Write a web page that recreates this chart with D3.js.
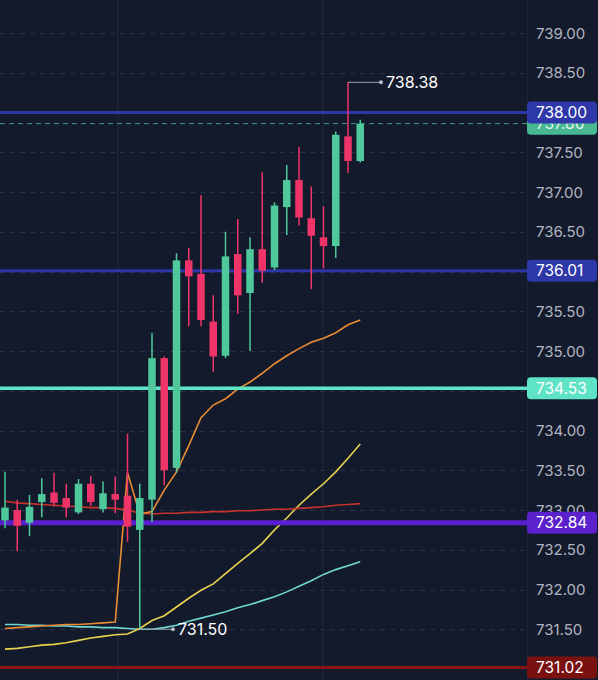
<!DOCTYPE html>
<html><head><meta charset="utf-8">
<script src="https://cdn.jsdelivr.net/npm/d3@7"></script>
<style>
html,body{margin:0;padding:0;background:#131a2c;}
svg{display:block;}
</style></head>
<body>
<script>
// ---- data ----
const candleIndex = d3.range(30);
const open  = [732.87,733.00,732.84,733.10,733.22,733.15,732.97,733.33,733.01,733.20,733.18,732.75,733.13,734.91,733.53,736.14,735.97,735.37,734.94,736.22,735.73,736.28,736.05,736.81,737.15,736.67,736.43,736.32,737.70,737.39];
const high  = [733.48,733.13,733.19,733.40,733.47,733.33,733.39,733.43,733.36,733.42,733.96,733.33,735.23,734.93,736.23,736.30,736.96,735.70,736.50,736.66,736.43,737.25,736.87,737.34,737.57,737.07,736.82,737.76,738.38,737.91];
const low   = [732.77,732.48,732.67,732.91,733.04,732.91,732.95,733.05,732.97,732.96,732.60,731.50,732.85,733.31,733.47,735.31,735.31,734.74,734.91,735.47,735.00,735.86,736.02,736.46,736.58,735.78,736.04,736.17,737.24,737.37];
const close = [733.03,732.80,733.04,733.20,733.09,733.03,733.33,733.10,733.21,733.13,732.79,733.15,734.91,733.50,736.14,735.94,735.39,734.93,736.19,735.70,736.28,736.01,736.83,737.15,736.68,736.45,736.32,737.72,737.39,737.86];

const maOrange = [731.51,731.52,731.53,731.54,731.55,731.56,731.56,731.57,731.58,731.59,733.47,732.95,732.98,733.25,733.48,733.81,734.16,734.32,734.40,734.52,734.61,734.72,734.84,734.94,735.03,735.11,735.16,735.23,735.33,735.39];
const maRed    = [733.11,733.09,733.08,733.07,733.06,733.05,733.04,733.03,733.03,733.02,733.00,732.96,732.95,732.96,732.96,732.97,732.97,732.98,732.98,732.99,732.99,733.00,733.01,733.01,733.02,733.03,733.04,733.06,733.07,733.08];
const maYellow = [731.25,731.26,731.28,731.30,731.31,731.33,731.36,731.39,731.41,731.43,731.44,731.51,731.61,731.67,731.78,731.89,731.99,732.07,732.20,732.33,732.45,732.58,732.75,732.90,733.06,733.20,733.33,733.48,733.65,733.83];
const maCyan   = [731.56,731.56,731.55,731.55,731.54,731.54,731.53,731.53,731.52,731.52,731.51,731.50,731.50,731.52,731.55,731.60,731.64,731.68,731.72,731.77,731.81,731.86,731.91,731.97,732.04,732.11,732.19,732.25,732.30,732.35];

const tickValues = [739.0,738.5,738.0,737.5,737.0,736.5,736.0,735.5,735.0,734.5,734.0,733.5,733.0,732.5,732.0,731.5];

const levelValues = [738.00, 736.01, 734.53, 732.84, 731.02];
const levelNames  = ["blue","blue","aqua","purple","darkred"];
const lastPrice = 737.86;
const highMark = 738.38, highMarkIndex = 28;
const lowMark = 731.50, lowMarkIndex = 11;

// ---- styles ----
const W = 598, H = 680, plotRight = 527;
const colUp = "#4fc99b", colDown = "#ee3468";
const levelColor = {blue:"#2d36a6", aqua:"#5fe6c8", purple:"#5a1fcf", darkred:"#8a1414"};
const levelWidth = {blue:3, aqua:3.5, purple:5, darkred:3};
const levelBox = {blue:"#2f38a8", aqua:"#5fe3c6", purple:"#5b21cc", darkred:"#7a1111"};

const svg = d3.select("body").append("svg").attr("width",W).attr("height",H)
  .style("font-family","Inter, 'Noto Sans', sans-serif");
svg.append("rect").attr("width",W).attr("height",H).attr("fill","#131a2c");

const x = d3.scaleLinear().domain([0,29]).range([5,360.25]);
const y = d3.scaleLinear().domain([739,731]).range([33,669]);

// vertical grid
const vg = svg.append("g");
[118,323].forEach(px=>vg.append("line").attr("x1",px).attr("x2",px).attr("y1",0).attr("y2",H)
  .attr("stroke","#1e2539").attr("stroke-width",1.5));
// axis separator
svg.append("line").attr("x1",plotRight+0.5).attr("x2",plotRight+0.5).attr("y1",0).attr("y2",H)
  .attr("stroke","#1d2438").attr("stroke-width",1);

// horizontal grid (dashed)
svg.append("g").selectAll("line").data(tickValues).join("line")
  .attr("x1",0).attr("x2",plotRight).attr("y1",d=>Math.round(y(d))+0.5).attr("y2",d=>Math.round(y(d))+0.5)
  .attr("stroke","#2a3146").attr("stroke-width",1).attr("stroke-dasharray","5,5");

// right axis (labels hidden where a level box fully covers them)
const shownTicks = tickValues.filter(t => levelValues.every(l => Math.abs(y(l)-y(t)) > 8));
const axis = d3.axisRight(y).tickValues(shownTicks).tickFormat(d=>d.toFixed(2)).tickSize(0).tickPadding(0);
const ag = svg.append("g").attr("transform",`translate(536,0)`).call(axis);
ag.select(".domain").remove();
ag.selectAll("text").attr("fill","#b2b5c0").attr("font-size","15px").attr("x",0).attr("dy","0.34em")
  .style("font-family","Inter, 'Noto Sans', sans-serif");

// moving averages
const line = arr => d3.line().x((d,i)=>x(i)).y(d=>y(d))(arr);
const maG = svg.append("g").attr("fill","none").attr("stroke-width",1.6);
maG.append("path").attr("d",line(maCyan)).attr("stroke","#6fd8d2");
maG.append("path").attr("d",line(maYellow)).attr("stroke","#e8d24e");
maG.append("path").attr("d",line(maRed)).attr("stroke","#c8322c");
maG.append("path").attr("d",line(maOrange)).attr("stroke","#ea8c34");

// current price dashed line
svg.append("line").attr("x1",0).attr("x2",plotRight).attr("y1",y(lastPrice)).attr("y2",y(lastPrice))
  .attr("stroke","#3f9c82").attr("stroke-width",1).attr("stroke-dasharray","5,4");

// level lines
svg.append("g").selectAll("line").data(levelValues).join("line")
  .attr("x1",0).attr("x2",plotRight).attr("y1",d=>y(d)).attr("y2",d=>y(d))
  .attr("stroke",(d,i)=>levelColor[levelNames[i]]).attr("stroke-width",(d,i)=>levelWidth[levelNames[i]]);

// candles
const cg = svg.append("g");
const bw = 7.5;
candleIndex.forEach(i=>{
  const up = close[i] >= open[i];
  const c = up ? colUp : colDown;
  cg.append("line").attr("x1",x(i)).attr("x2",x(i)).attr("y1",y(high[i])).attr("y2",y(low[i]))
    .attr("stroke",c).attr("stroke-width",1.5);
  const top = y(Math.max(open[i],close[i])), bot = y(Math.min(open[i],close[i]));
  cg.append("rect").attr("x",x(i)-bw/2).attr("y",top).attr("width",bw).attr("height",Math.max(1.5,bot-top)).attr("fill",c);
});

// high / low markers
function marker(idx, val, x2){
  const yy = y(val);
  svg.append("line").attr("x1",x(idx)).attr("x2",x2).attr("y1",yy).attr("y2",yy).attr("stroke","#9ba1ad").attr("stroke-width",1);
  svg.append("circle").attr("cx",x2).attr("cy",yy).attr("r",2).attr("fill","#b8bcc6");
  svg.append("text").attr("x",x2+5).attr("y",yy).attr("dy","0.36em").attr("fill","#ffffff")
    .attr("font-size","16px").text(val.toFixed(2));
}
marker(highMarkIndex, highMark, 381);
marker(lowMarkIndex, lowMark, 173);

// price labels
function priceBox(val, fill, txtFill){
  const yy = y(val);
  svg.append("rect").attr("x",527).attr("y",yy-11).attr("width",70).attr("height",22).attr("rx",4).attr("fill",fill);
  svg.append("text").attr("x",536).attr("y",yy).attr("dy","0.36em").attr("fill",txtFill)
    .attr("font-size","15.5px").text(val.toFixed(2));
}
priceBox(lastPrice, "#47b892", "#dff5ec");
levelValues.forEach((v,i)=>priceBox(v, levelBox[levelNames[i]], "#ffffff"));
</script>
</body></html>
